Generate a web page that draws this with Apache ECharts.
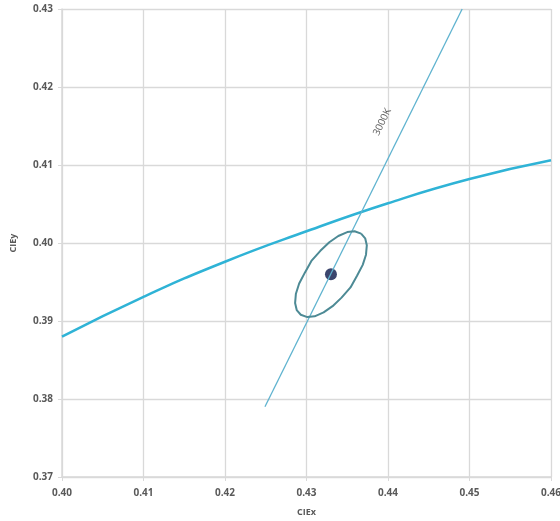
<!DOCTYPE html>
<html><head><meta charset="utf-8">
<script src="https://cdn.jsdelivr.net/npm/echarts@6/dist/echarts.min.js"></script>
<style>html,body{margin:0;padding:0;background:#fff}#c{width:560px;height:521px}</style>
</head><body><div id="c"></div>
<script>
// Planckian locus (CIE x, CIE y)
const locusX = [0.400, 0.410, 0.420, 0.430, 0.440, 0.450, 0.460];
const locusY = [0.3880, 0.3931, 0.3976, 0.4015, 0.4051, 0.4082, 0.4106];
// 3000K isotherm end points
const isoX = [0.4249, 0.4491];
const isoY = [0.3790, 0.4300];
const isoLabel = '3000K';
const isoLabelPos = [0.4393, 0.4155];
// ellipse outline points
const ellX = [0.4367,0.4359,0.4350,0.4339,0.4328,0.4317,0.4306,0.4298,0.4291,0.4287,0.4286,0.4288,0.4293,0.4301,0.4310,0.4321,0.4332,0.4343,0.4354,0.4362,0.4369,0.4373,0.4374,0.4372,0.4367];
const ellY = [0.4012,0.4015,0.4014,0.4009,0.4001,0.3990,0.3977,0.3962,0.3948,0.3935,0.3923,0.3914,0.3908,0.3905,0.3906,0.3911,0.3919,0.3930,0.3943,0.3958,0.3972,0.3985,0.3997,0.4006,0.4012];
// centre point
const centre = [0.4330, 0.3960];
// axes
const xMin = 0.40, xMax = 0.46, xStep = 0.01;
const yMin = 0.37, yMax = 0.43, yStep = 0.01;
const xTitle = 'CIEx', yTitle = 'CIEy';

const zip = (a, b) => a.map((v, i) => [v, b[i]]);
const chart = echarts.init(document.getElementById('c'));
const grey = '#d9d9d9';
const lbl = {color: '#595959', fontSize: 10, fontFamily: 'Open Sans', fontWeight: 'bold', formatter: v => v.toFixed(2)};
chart.setOption({
  animation: false,
  grid: {left: 62, right: 9, top: 9, bottom: 44, containLabel: false, outerBoundsMode: 'none'},
  xAxis: {type: 'value', min: xMin, max: xMax, interval: xStep,
    name: xTitle, nameLocation: 'middle', nameGap: 31,
    nameTextStyle: {color: '#595959', fontSize: 9, fontWeight: 'bold', fontFamily: 'Open Sans'},
    axisLine: {onZero: false, lineStyle: {color: grey, width: 1.5}},
    axisTick: {show: true, length: 4, lineStyle: {color: grey}},
    axisLabel: Object.assign({margin: 11}, lbl),
    splitLine: {lineStyle: {color: grey, width: 1.3}}},
  yAxis: {type: 'value', min: yMin, max: yMax, interval: yStep,
    name: yTitle, nameLocation: 'middle', nameGap: 44,
    nameTextStyle: {color: '#595959', fontSize: 9, fontWeight: 'bold', fontFamily: 'Open Sans'},
    axisLine: {show: true, onZero: false, lineStyle: {color: grey, width: 1.5}},
    axisTick: {show: true, length: 4, lineStyle: {color: grey}},
    axisLabel: Object.assign({margin: 9}, lbl),
    splitLine: {lineStyle: {color: grey, width: 1.3}}},
  series: [
    {type: 'line', data: zip(locusX, locusY), smooth: true, symbol: 'none',
      lineStyle: {color: '#2fb3d6', width: 2.5}},
    {type: 'line', data: zip(isoX, isoY), symbol: 'none',
      lineStyle: {color: '#5fb3cf', width: 1.3}},
    {type: 'line', data: zip(ellX, ellY), smooth: false, symbol: 'none',
      lineStyle: {color: '#4d8a95', width: 2, join: 'round'}},
    {type: 'scatter', data: [centre], symbolSize: 12, itemStyle: {color: '#0a1648'}},
    {type: 'scatter', data: [isoLabelPos], symbolSize: 0,
      label: {show: true, position: 'inside', formatter: isoLabel, rotate: 63.7,
        color: '#333333', fontSize: 10, fontFamily: 'Open Sans'}}
  ]
});
</script></body></html>
